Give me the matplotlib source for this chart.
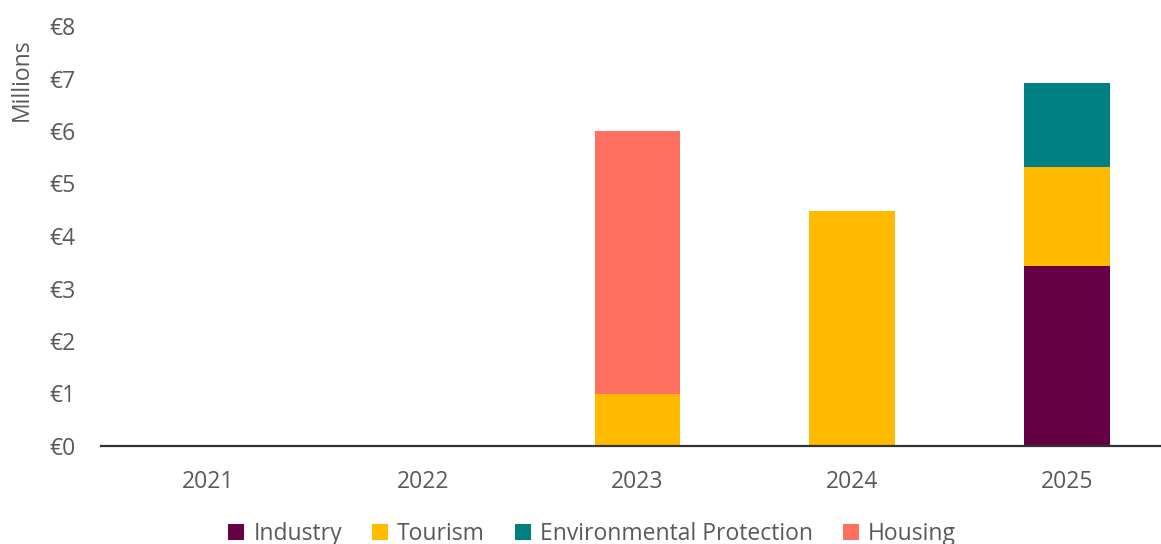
import numpy as np
import matplotlib.pyplot as plt
from matplotlib.patches import Patch

plt.rcParams['font.family'] = ['Open Sans', 'DejaVu Sans']

years = ['2021', '2022', '2023', '2024', '2025']
industry = [0, 0, 0, 0, 3.42]
tourism = [0, 0, 1.0, 4.48, 1.9]
environment = [0, 0, 0, 0, 1.6]
housing = [0, 0, 5.0, 0, 0]

names = ['Industry', 'Tourism', 'Environmental Protection', 'Housing']
colors = ['#660044', '#FFBA00', '#008080', '#FF7060']
series = [industry, tourism, environment, housing]

grey = '#595959'
fs = 16.5

fig = plt.figure(figsize=(11.61, 5.44), dpi=100)
ax = fig.add_axes([100.5/1161, 98/544, 1074/1161, 420/544])

x = np.arange(len(years))
bottom = np.zeros(len(years))
for vals, col in zip(series, colors):
    ax.bar(x, vals, width=0.4, bottom=bottom, color=col, zorder=2)
    bottom += np.array(vals)

ax.set_xlim(-0.5, 4.5)
ax.set_ylim(0, 8)
ax.set_yticks(range(9))
ax.set_yticklabels(['€%d' % i for i in range(9)])
ax.set_xticks(x)
ax.set_xticklabels(years)
ax.tick_params(axis='both', length=0, labelsize=fs, colors=grey)
ax.tick_params(axis='x', pad=17)
ax.tick_params(axis='y', pad=18)
for s in ['top', 'right', 'left']:
    ax.spines[s].set_visible(False)
ax.spines['bottom'].set_color('#333333')
ax.spines['bottom'].set_linewidth(1.6)
ax.spines['bottom'].set_zorder(3)

fig.text(22/1161, 1 - 80/544, 'Millions', rotation=90, ha='center', va='center',
         fontsize=fs, color=grey)

handles = [Patch(facecolor=c, label=n) for n, c in zip(names, colors)]
fig.legend(handles=handles, loc='center', bbox_to_anchor=(592/1161, 10/544),
           ncol=4, frameon=False, fontsize=fs, labelcolor=grey,
           handlelength=0.7, handleheight=0.7, handletextpad=0.4,
           columnspacing=1.3)

fig.savefig('out.png', dpi=100)
